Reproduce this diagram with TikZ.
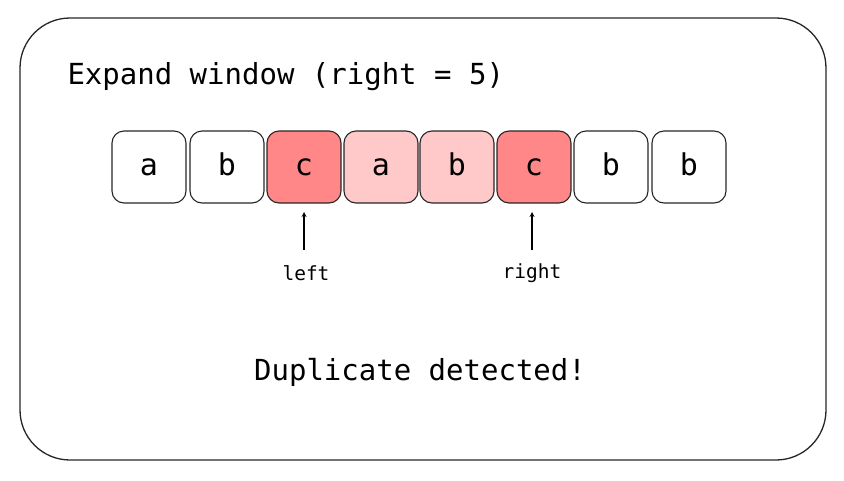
\documentclass[tikz,border=0pt]{standalone}
\usepackage{fontspec}
\setmainfont{DejaVu Sans Mono}
\begin{document}
\begin{tikzpicture}[x=1pt,y=-1pt,
  cell/.style={draw=black!85,line width=1.1pt,rounded corners=12pt,minimum width=74pt,minimum height=72pt,inner sep=0pt,text height=16pt,text depth=0pt,font=\fontsize{30}{30}\selectfont},
  lbl/.style={font=\fontsize{19.5}{20}\selectfont},
  big/.style={font=\fontsize{29}{30}\selectfont}]
\useasboundingbox (0,0) rectangle (844,480);
\draw[line width=1.3pt,black!85,rounded corners=50pt] (20,18) rectangle (826,460);
\node[big,anchor=west] (title) at (64,77) {Expand window (right = 5)};
\definecolor{hot}{HTML}{FF8787}
\definecolor{warm}{HTML}{FFC9C9}
\node[cell] (c1) at (149,167) {a};
\node[cell] (c2) at (227,167) {b};
\node[cell,fill=hot] (c3) at (304,167) {c};
\node[cell,fill=warm] (c4) at (381,167) {a};
\node[cell,fill=warm] (c5) at (457,167) {b};
\node[cell,fill=hot] (c6) at (534,167) {c};
\node[cell] (c7) at (611,167) {b};
\node[cell] (c8) at (689,167) {b};
\node[lbl] (left) at (306,273) {left};
\node[lbl] (right) at (532,273) {right};
\coordinate (la) at (304,250); \coordinate (ra) at (532,250);
\draw[line width=1.2pt,->,>=stealth] (la) -- (304,212);
\draw[line width=1.2pt,->,>=stealth] (ra) -- (532,212);
\node[big] (dup) at (420,372) {Duplicate detected!};
\end{tikzpicture}
\end{document}
